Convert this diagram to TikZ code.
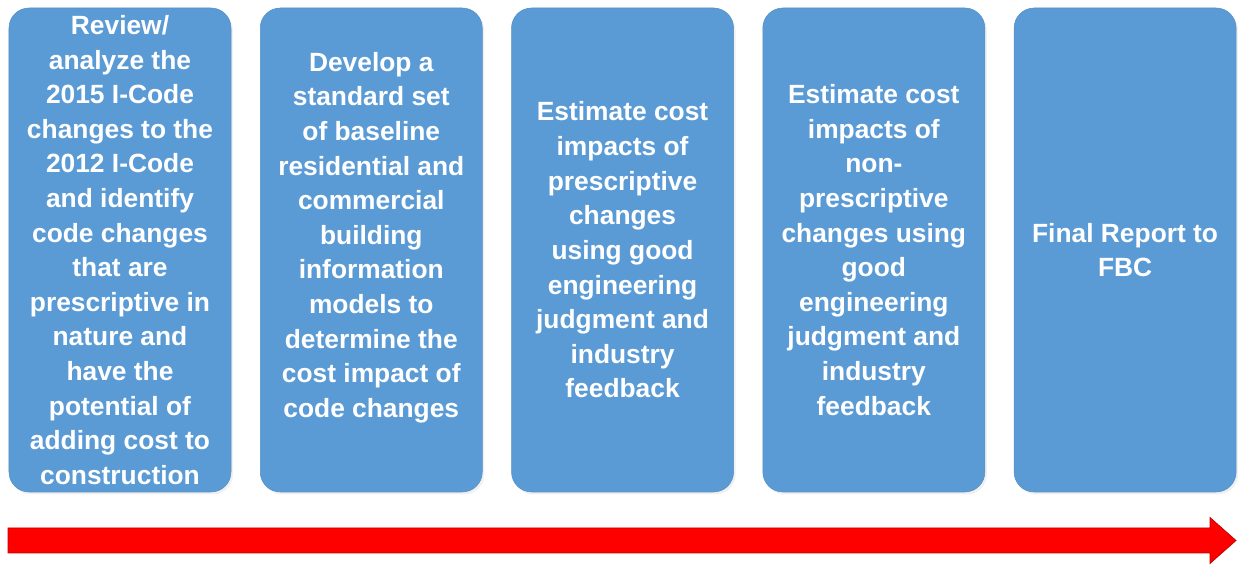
\documentclass[tikz,border=0pt]{standalone}
\usepackage{fontspec}
\setmainfont{Liberation Sans}
\usetikzlibrary{positioning,shadows}
\definecolor{stageblue}{RGB}{91,155,213}
\definecolor{arrowred}{RGB}{255,0,0}

\begin{document}
\begin{tikzpicture}[
	node distance=0.575cm,
	stage/.style={rectangle, rounded corners=0.4cm, fill=stageblue, draw=stageblue!92!black, line width=0.3pt, minimum width=4.44cm, minimum height=9.68cm, drop shadow={opacity=0.12, shadow xshift=0.04cm, shadow yshift=-0.05cm}},
	lbl/.style={text=white, align=center, inner sep=0pt, font=\fontsize{15}{19.7}\selectfont\bfseries}
]
	\useasboundingbox (0,0) rectangle (24.76,-11.3);

	\node[stage] (b1) at (2.40,-5.0) {};
	\node[stage, right=of b1] (b2) {};
	\node[stage, right=of b2] (b3) {};
	\node[stage, right=of b3] (b4) {};
	\node[stage, right=of b4] (b5) {};

	\node[lbl] (t1) at (b1) {Review/\\analyze the\\2015 I-Code\\changes to the\\2012 I-Code\\and identify\\code changes\\that are\\prescriptive in\\nature and\\have the\\potential of\\adding cost to\\construction};
	\node[lbl] (t2) at ([yshift=0.25cm]b2.center) {Develop a\\standard set\\of baseline\\residential and\\commercial\\building\\information\\models to\\determine the\\cost impact of\\code changes};
	\node[lbl] (t3) at (b3) {Estimate cost\\impacts of\\prescriptive\\changes\\using good\\engineering\\judgment and\\industry\\feedback};
	\node[lbl] (t4) at (b4) {Estimate cost\\impacts of\\non-\\prescriptive\\changes using\\good\\engineering\\judgment and\\industry\\feedback};
	\node[lbl] (t5) at (b5) {Final Report to\\FBC};

	% timeline
	\coordinate (tstart) at (0.16,-10.81);
	\coordinate (tend) at (24.72,-10.81);
	\filldraw[fill=arrowred, draw=red!75!black, line width=0.4pt]
		([yshift=0.25cm]tstart) -- ([shift={(-0.52,0.25)}]tend) -- ([shift={(-0.52,0.46)}]tend) -- (tend)
		-- ([shift={(-0.52,-0.46)}]tend) -- ([shift={(-0.52,-0.25)}]tend) -- ([yshift=-0.25cm]tstart) -- cycle;
\end{tikzpicture}
\end{document}
